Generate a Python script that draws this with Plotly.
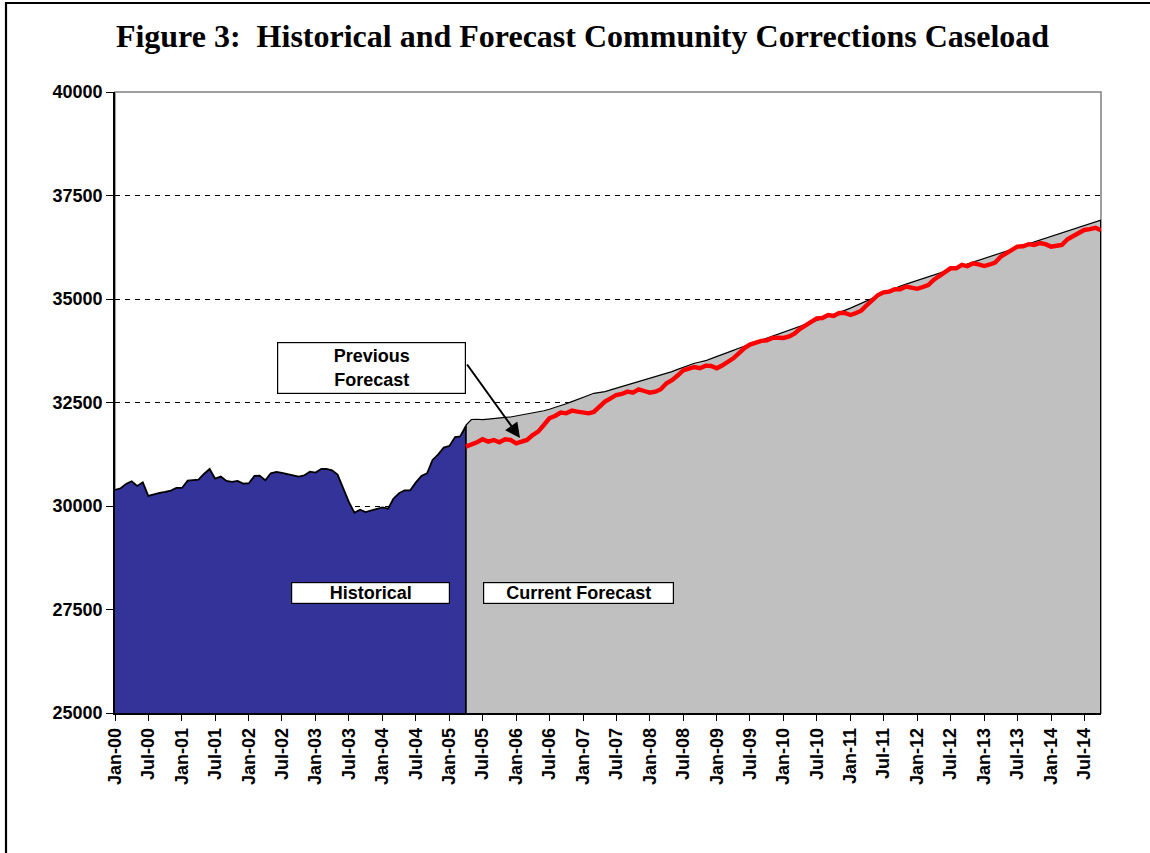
import pandas as pd
import plotly.graph_objects as go

# ---------------- data ----------------
HIST_START = "2000-01-01"
FCST_START = "2005-04-01"

historical = [30387, 30428, 30531, 30597, 30483, 30571, 30242, 30282, 30315, 30339,
              30371, 30436, 30436, 30613, 30629, 30637, 30774, 30894, 30661, 30710,
              30605, 30581, 30605, 30541, 30549, 30726, 30734, 30621, 30790, 30822,
              30798, 30766, 30750, 30710, 30742, 30830, 30806, 30894, 30894, 30862,
              30758, 30428, 30104, 29838, 29911, 29855, 29887, 29935, 29968, 29935,
              30176, 30307, 30379, 30379, 30565, 30726, 30790, 31112, 31248, 31410,
              31450, 31667, 31683, 31933]

current_forecast = [31950, 32090, 32095, 32085, 32100, 32118, 32125, 32142, 32150, 32174,
                    32195, 32222, 32250, 32278, 32300, 32336, 32375, 32416, 32470, 32520,
                    32565, 32617, 32675, 32722, 32740, 32762, 32805, 32843, 32895, 32940,
                    32970, 33003, 33045, 33085, 33125, 33165, 33205, 33245, 33300, 33350,
                    33400, 33447, 33478, 33510, 33560, 33607, 33655, 33703, 33760, 33810,
                    33858, 33906, 33955, 34005, 34055, 34105, 34150, 34200, 34245, 34290,
                    34335, 34380, 34425, 34470, 34520, 34570, 34625, 34675, 34725, 34780,
                    34840, 34900, 34965, 35030, 35085, 35140, 35200, 35255, 35314, 35358,
                    35402, 35447, 35491, 35535, 35580, 35624, 35668, 35713, 35757, 35801,
                    35845, 35890, 35934, 35978, 36023, 36067, 36111, 36155, 36200, 36244,
                    36288, 36333, 36377, 36421, 36466, 36510, 36554, 36598, 36643, 36687,
                    36731, 36776, 36820, 36864, 36908]

previous_forecast = [31433, 31473, 31540, 31611, 31555, 31595, 31539, 31611, 31595, 31514,
                     31555, 31595, 31715, 31796, 31957, 32118, 32175, 32255, 32239, 32303,
                     32279, 32255, 32239, 32271, 32400, 32521, 32601, 32682, 32706, 32762,
                     32738, 32819, 32778, 32738, 32762, 32819, 32964, 33040, 33150, 33275,
                     33318, 33358, 33330, 33390, 33383, 33326, 33400, 33467, 33568, 33688,
                     33815, 33900, 33946, 33990, 34000, 34060, 34065, 34060, 34098, 34163,
                     34280, 34372, 34465, 34534, 34542, 34614, 34590, 34663, 34663, 34614,
                     34663, 34719, 34855, 34968, 35097, 35160, 35178, 35234, 35234, 35300,
                     35270, 35246, 35290, 35338, 35467, 35548, 35648, 35741, 35741, 35822,
                     35790, 35862, 35834, 35797, 35834, 35878, 36023, 36112, 36200, 36265,
                     36273, 36325, 36305, 36353, 36325, 36265, 36285, 36305, 36442, 36514,
                     36595, 36667, 36687, 36720, 36660]

Y_MIN, Y_MAX, Y_STEP = 25000, 40000, 2500
X_RANGE = ["2000-01-01", "2014-10-01"]

title_text = "Figure 3:\u00a0 Historical and Forecast Community Corrections Caseload"

# ---------------- derived ----------------
hist_dates = pd.date_range(HIST_START, periods=len(historical), freq="MS")
fc_dates = pd.date_range(FCST_START, periods=len(current_forecast), freq="MS")
pf_dates = pd.date_range(FCST_START, periods=len(previous_forecast), freq="MS")

BLUE = "#333399"
GRAY = "#C0C0C0"
FONT = "Liberation Sans, Arial, sans-serif"

fig = go.Figure()

fig.add_trace(go.Scatter(x=fc_dates, y=current_forecast, mode="lines", fill="tozeroy",
                         fillcolor=GRAY, line=dict(color="black", width=1.2),
                         hoverinfo="skip"))
fig.add_trace(go.Scatter(x=hist_dates, y=historical, mode="lines", fill="tozeroy",
                         fillcolor=BLUE, line=dict(color="black", width=1.8),
                         hoverinfo="skip"))
# vertical edges of the areas
fig.add_trace(go.Scatter(x=[hist_dates[-1], hist_dates[-1]],
                         y=[Y_MIN, max(historical[-1], current_forecast[0])],
                         mode="lines", line=dict(color="black", width=1.8), hoverinfo="skip"))
fig.add_trace(go.Scatter(x=[fc_dates[-1], fc_dates[-1]], y=[Y_MIN, current_forecast[-1]],
                         mode="lines", line=dict(color="black", width=2), hoverinfo="skip"))
fig.add_trace(go.Scatter(x=pf_dates, y=previous_forecast, mode="lines",
                         line=dict(color="#FF0000", width=4.4), hoverinfo="skip"))

W, H = 1150, 853
L, R, T, B = 115, 49, 92, 140
PW, PH = W - L - R, H - T - B


def px(xp):
    return (xp - L) / PW


def py(yp):
    return (H - B - yp) / PH


fig.update_layout(
    width=W, height=H,
    margin=dict(l=L, r=R, t=T, b=B),
    paper_bgcolor="white", plot_bgcolor="white",
    showlegend=False,
    title=dict(text=title_text, x=582.5 / W, xref="container", xanchor="center",
               y=1 - 36 / H, yref="container", yanchor="middle",
               font=dict(family="Liberation Serif, Times New Roman, serif", size=32,
                         color="black", weight="bold")),
    xaxis=dict(type="date", range=X_RANGE, tickmode="linear", tick0=HIST_START, dtick="M6",
               tickformat="%b-%y", tickangle=-90, ticks="outside", ticklen=6,
               tickcolor="black", tickwidth=1.2, showline=True, linecolor="black",
               linewidth=1.5, showgrid=False, zeroline=False,
               tickfont=dict(family=FONT, size=18, color="black", weight="bold")),
    yaxis=dict(range=[Y_MIN, Y_MAX], tickmode="linear", tick0=Y_MIN, dtick=Y_STEP,
               tickformat="d", ticks="outside", ticklen=7, tickcolor="black", tickwidth=1.2,
               showline=True, linecolor="black", linewidth=1.5, showgrid=True,
               gridcolor="#000000", gridwidth=1, griddash="5px,5px", zeroline=False,
               tickfont=dict(family=FONT, size=18, color="black", weight="bold")),
    shapes=[
        dict(type="rect", xref="paper", yref="paper", x0=0, x1=1, y0=0, y1=1,
             line=dict(color="#808080", width=1.5), layer="below"),
        dict(type="rect", xref="paper", yref="paper", x0=px(6), x1=px(1170),
             y0=py(880), y1=py(3), line=dict(color="black", width=2.2), layer="above"),
    ],
)

box_font = dict(family=FONT, size=18, color="black", weight="bold")
fig.add_annotation(xref="paper", yref="paper", x=px(370.3), y=py(593), text="Historical",
                   showarrow=False, xanchor="center", yanchor="middle", font=box_font,
                   bgcolor="white", bordercolor="black", borderwidth=1.2, borderpad=0,
                   width=157, height=20)
fig.add_annotation(xref="paper", yref="paper", x=px(578.5), y=py(593),
                   text="Current Forecast", showarrow=False, xanchor="center",
                   yanchor="middle", font=box_font, bgcolor="white", bordercolor="black",
                   borderwidth=1.2, borderpad=0, width=189, height=20)
fig.add_annotation(xref="paper", yref="paper", x=px(371.7), y=py(368.3),
                   text="Previous<br>Forecast", showarrow=False, xanchor="center",
                   yanchor="middle", font=box_font, bgcolor="white", bordercolor="black",
                   borderwidth=1.2, borderpad=0, width=187, height=50)
fig.add_annotation(xref="paper", yref="paper", x=px(520), y=py(438), text="",
                   showarrow=True, ax=466 - 520, ay=363 - 438, axref="pixel", ayref="pixel",
                   arrowhead=2, arrowsize=1.5, arrowwidth=2, arrowcolor="black",
                   standoff=0, startstandoff=0)

fig.write_html("out.html",
               config={"displayModeBar": False},
               post_script="document.body.style.margin='0px';"
                           "document.body.style.overflow='hidden';")
